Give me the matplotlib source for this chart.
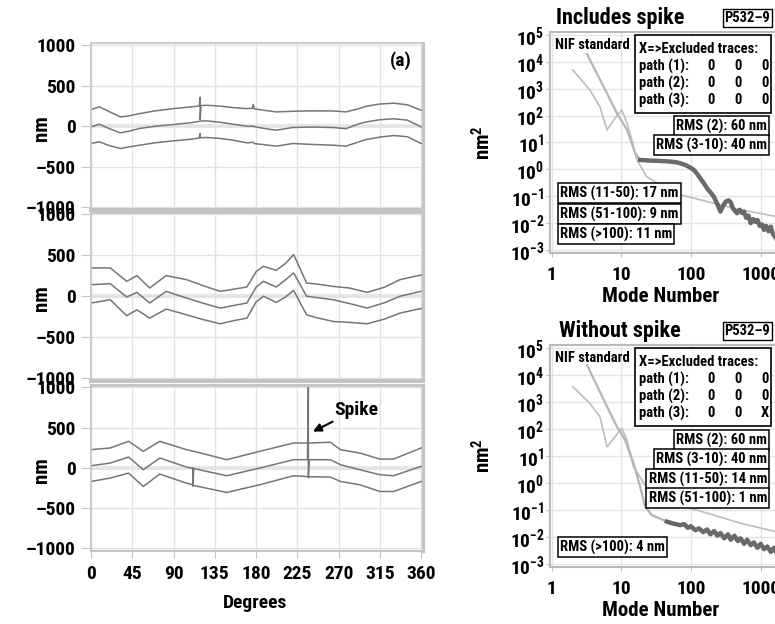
import numpy as np
import matplotlib
matplotlib.use('Agg')
import matplotlib.pyplot as plt
from matplotlib import font_manager
from matplotlib.patches import Rectangle

# pick a narrow bold sans if one is installed, else plain Liberation Sans
def _num(v, table, default):
    return v if isinstance(v, (int, float)) else table.get(v, default)

fam, stretch, k = 'Liberation Sans', 'normal', 0.85
for pref in ['Liberation Sans Narrow', 'Arial Narrow', 'Roboto Condensed', 'Noto Sans', 'Open Sans']:
    hits = [f for f in font_manager.fontManager.ttflist
            if f.name.startswith(pref)
            and _num(f.weight, font_manager.weight_dict, 400) >= 600
            and (_num(f.stretch, font_manager.stretch_dict, 500) <= 300
                 or 'Narrow' in f.name or 'Condensed' in f.name)]
    if hits:
        fam, stretch, k = hits[0].name, hits[0].stretch, 1.0
        break

plt.rcParams['font.family'] = fam
plt.rcParams['font.stretch'] = stretch
plt.rcParams['font.weight'] = 'bold'
plt.rcParams['mathtext.fontset'] = 'custom'
plt.rcParams['mathtext.rm'] = f'{fam}:weight=bold:stretch={stretch}'
plt.rcParams['mathtext.bf'] = f'{fam}:weight=bold:stretch={stretch}'

# ---- left: three traces per panel (degrees vs nm) ----
deg1 = [0, 9, 20, 32, 42, 53, 70, 90, 110, 118, 119, 119, 120, 126, 140, 155, 170, 176, 177, 178,
        190, 202, 220, 240, 264, 278, 293, 300, 315, 330, 345, 360]
upper1 = [206, 240, 180, 115, 130, 156, 190, 218, 240, 250, 360, 80, 255, 259, 250, 230, 218, 222, 270, 215,
          195, 177, 185, 190, 189, 177, 220, 247, 275, 285, 265, 198]
mid1 = [-8, 25, -30, -82, -60, -28, 0, 21, 45, 60, 62, 62, 64, 66, 50, 25, 0, 0, 0, -5,
        -30, -49, -16, -10, -16, -30, 33, 53, 80, 92, 75, -8]
lower1 = [-214, -193, -240, -276, -255, -235, -205, -181, -160, -145, -90, -145, -142, -140, -150, -173, -206, -200, -200, -215,
          -230, -247, -214, -225, -235, -247, -190, -165, -135, -115, -130, -214]

deg2 = [0, 21, 39, 50, 64, 82, 104, 122, 141, 155, 170, 180, 188, 202, 212, 221, 235, 245, 264, 282, 301, 320, 337, 360]
upper2 = [346, 346, 182, 252, 101, 252, 203, 130, 59, 85, 113, 300, 366, 317, 400, 509, 162, 150, 120, 100, 47, 110, 203, 260]
mid2 = [141, 153, -10, 47, -83, 59, -22, -85, -145, -115, -83, 110, 182, 113, 200, 285, 0, -15, -43, -90, -145, -80, 0, 60]
lower2 = [-83, -43, -239, -166, -268, -157, -227, -285, -337, -300, -268, -70, 0, -76, -10, 71, -227, -260, -309, -320, -337, -280, -206, -150]

deg3 = [0, 21, 41, 57, 75, 104, 110, 111, 111, 112, 148, 184, 221, 236, 237, 237, 238, 261, 272, 293, 315, 330, 360]
upper3 = [225, 246, 329, 204, 329, 225, 210, 205, 205, 205, 100, 204, 308, 308, 308, 308, 308, 317, 225, 183, 108, 108, 246]
mid3 = [25, 58, 133, -25, 121, 8, -5, 0, -230, -10, -100, -4, 100, 100, 1000, -125, 100, 100, 37, -25, -87, -100, 17]
lower3 = [-171, -129, -67, -233, -79, -192, -210, -215, -215, -221, -308, -212, -100, -110, -110, -110, -112, -117, -171, -212, -296, -296, -171]

panels = [(deg1, upper1, mid1, lower1), (deg2, upper2, mid2, lower2), (deg3, upper3, mid3, lower3)]
deg_ticks = [0, 45, 90, 135, 180, 225, 270, 315, 360]
nm_ticks = [-1000, -500, 0, 500, 1000]

# ---- right: PSD curves (mode number vs nm^2, given as log10 values) ----
modeA_light = [3.2, 4.4, 6.2, 8.6, 12, 15.8, 18.6]
expA_light = [4.29, 3.58, 2.83, 2.09, 1.47, 0.60, 0.35]
modeA_dark = [18.6, 25, 32, 45, 60, 70, 85, 100, 110, 125, 140, 152, 170, 190, 212, 240, 265, 290,
              315, 345, 372, 400, 430, 460, 500, 540, 578, 620, 670, 720, 780, 840, 900, 970, 1050, 1120,
              1200, 1300, 1400, 1500, 1660]
expA_dark = [0.35, 0.33, 0.32, 0.30, 0.27, 0.23, 0.15, 0.05, -0.02, -0.2, -0.38, -0.51, -0.7, -0.85, -1.01, -1.3, -1.57, -1.35,
             -1.2, -1.15, -1.22, -1.45, -1.55, -1.63, -1.5, -1.62, -1.57, -1.8, -1.72, -2.0, -1.85, -1.95, -1.88, -2.1, -2.05, -2.25,
             -2.1, -2.3, -2.13, -2.4, -2.56]
modeA_std = [2.0, 3.5, 4.9, 6.2, 8.1, 10.1, 12, 14.1, 16.7, 23, 56, 213, 515, 1660]
expA_std = [3.70, 2.96, 2.33, 1.47, 1.90, 2.21, 1.72, 1.10, 0.35, -0.27, -0.88, -1.26, -1.5, -1.75]

modeB_light = [3.2, 4.4, 6.2, 8.6, 11.3, 14.9, 18.6, 21.9, 27.4, 45, 70]
expB_light = [4.37, 3.63, 2.83, 2.09, 1.59, 0.73, -0.14, -0.88, -1.19, -1.43, -1.56]
modeB_dark = [45, 55, 70, 80, 90, 100, 115, 130, 150, 170, 190, 215, 240, 265, 300, 340, 372, 420, 470, 515,
              580, 640, 720, 800, 900, 1000, 1120, 1250, 1400, 1550, 1700]
expB_dark = [-1.43, -1.5, -1.56, -1.52, -1.66, -1.6, -1.75, -1.68, -1.82, -1.72, -1.9, -1.78, -1.95, -1.85, -2.05, -1.9, -2.1, -1.95, -2.15, -2.05,
             -2.25, -2.1, -2.3, -2.2, -2.4, -2.25, -2.45, -2.35, -2.55, -2.4, -2.6]
modeB_std = [2.0, 3.5, 4.9, 6.2, 8.1, 10.1, 12, 14.9, 26, 56, 213, 515, 1660]
expB_std = [3.57, 2.95, 2.46, 1.34, 1.72, 2.03, 1.59, 0.60, -0.38, -0.75, -1.19, -1.49, -1.80]

mode_ticks = [1, 10, 100, 1000]
psd_exps = [-3, -2, -1, 0, 1, 2, 3, 4, 5]

W, H = 775, 624
def fx(px):
    return px / W
def fy(py):
    return 1 - py / H

fig = plt.figure(figsize=(W / 100, H / 100), dpi=100)
box_fs = 10.5 if k == 1.0 else 8.6

gray = '#c4c4c4'
tops = [(43, 210), (212, 381), (385, 551)]
for i, ((t, b), (deg, up, md, lo)) in enumerate(zip(tops, panels)):
    ax = fig.add_axes([fx(91), fy(b), (423 - 91) / W, (b - t) / H])
    for y in (up, md, lo):
        ax.plot(deg, y, color='#767676', lw=1.1)
    ax.set_xlim(0, 362)
    ax.set_ylim(-1037, 1030)
    ax.set_xticks(deg_ticks)
    ax.set_yticks(nm_ticks)
    ax.set_yticklabels([str(v).replace('-', '\u2013') for v in nm_ticks], fontsize=14 * k, fontweight='bold')
    ax.grid(True, color='#e2e2e2', lw=1)
    ax.axhline(0, color='#e8e8e8', lw=3, zorder=0)
    for s in ax.spines.values():
        s.set_color(gray)
    ax.spines['left'].set_linewidth(1.2)
    ax.spines['right'].set_linewidth(2.2)
    ax.spines['top'].set_linewidth(2.0 if i else 1.2)
    ax.spines['bottom'].set_linewidth(3.0 if i < 2 else 1.5)
    ax.tick_params(axis='y', length=7, color=gray, pad=4)
    if i < 2:
        ax.tick_params(axis='x', bottom=False, labelbottom=False)
    else:
        ax.set_xticklabels([str(v) for v in deg_ticks], fontsize=14 * k, fontweight='bold')
        ax.tick_params(axis='x', length=5, color=gray, pad=5)
    fig.text(fx(42), fy((t + b) / 2 + 2), 'nm', rotation=90, ha='center', va='center',
             fontsize=15 * k, fontweight='bold')
    if i == 0:
        ax.text(338, 815, '(a)', ha='center', va='center', fontsize=14 * k, fontweight='bold')
    if i == 2:
        ax.annotate('Spike', xy=(242, 450), xytext=(265, 720), ha='left', va='center',
                    fontsize=14 * k, fontweight='bold',
                    arrowprops=dict(arrowstyle='-|>', color='black', lw=1.5, mutation_scale=12,
                                    shrinkA=0, shrinkB=0))

fig.text(fx(255), fy(603), 'Degrees', ha='center', va='center', fontsize=14 * k, fontweight='bold')

# ---- right panels ----
def psd_axes(t, b, light, dark, std, title, excl, rms_right, rms_left):
    ax = fig.add_axes([fx(550), fy(b), (780 - 550) / W, (b - t) / H])
    ax.set_xscale('log')
    ax.set_yscale('log')
    ax.plot(std[0], 10.0 ** np.array(std[1]), color='#bdbdbd', lw=1.2)
    ax.plot(light[0], 10.0 ** np.array(light[1]), color='#b5b5b5', lw=1.6)
    ax.plot(dark[0], 10.0 ** np.array(dark[1]), color='#5a5a5a', lw=3.2, alpha=0.9)
    ax.set_xlim(0.94, 1900)
    ax.set_ylim(10 ** -3.11, 10 ** 5.11)
    ax.set_xticks(mode_ticks)
    ax.set_xticklabels([str(v) for v in mode_ticks], fontsize=14 * k, fontweight='bold')
    ax.set_yticks([10.0 ** e for e in psd_exps])
    ax.set_yticklabels([r'$\mathbf{10^{%d}}$' % e for e in psd_exps], fontsize=14 * k)
    ax.minorticks_off()
    ax.grid(True, color='#e4e4e4', lw=1)
    for s in ax.spines.values():
        s.set_color('#bbbbbb')
        s.set_linewidth(1.5)
    ax.tick_params(axis='y', length=3, color='#bbbbbb', pad=1)
    ax.tick_params(axis='x', length=3, color='#bbbbbb', pad=6)

    fig.text(fx(483), fy((t + b) / 2), r'$\mathbf{nm^{2}}$', rotation=90, ha='center', va='center',
             fontsize=15 * k)
    fig.text(fx(661), fy(b + 43), 'Mode Number', ha='center', va='center', fontsize=15 * k, fontweight='bold')
    fig.text(fx(620), fy(t - 14), title, ha='center', va='center', fontsize=16 * k, fontweight='bold')
    fig.text(fx(770), fy(t - 14), 'P532\u20139', ha='right', va='center', fontsize=box_fs, fontweight='bold',
             bbox=dict(boxstyle='square,pad=0.12', fc='white', ec='black', lw=1))
    fig.text(fx(555), fy(t + 13), 'NIF standard', ha='left', va='center', fontsize=box_fs, fontweight='bold')

    # excluded traces box
    bx0, by0 = 635, t + 3
    fig.patches.append(Rectangle((fx(bx0), fy(by0 + 78)), (771 - bx0) / W, 78 / H,
                                 transform=fig.transFigure, fc='white', ec='black', lw=1.2, zorder=5))
    fig.text(fx(bx0 + 4), fy(by0 + 14), 'X=>Excluded traces:', ha='left', va='center',
             fontsize=box_fs, fontweight='bold', zorder=6)
    for r, row in enumerate(excl):
        yy = fy(by0 + 31 + 17 * r)
        fig.text(fx(bx0 + 4), yy, 'path (%d):' % (r + 1), ha='left', va='center',
                 fontsize=box_fs, fontweight='bold', zorder=6)
        for c, v in enumerate(row):
            fig.text(fx(711 + 27 * c), yy, v, ha='center', va='center', fontsize=box_fs,
                     fontweight='bold', zorder=6)
    for txt, py in rms_right:
        fig.text(fx(767), fy(py), txt, ha='right', va='center', fontsize=box_fs, fontweight='bold', zorder=6,
                 bbox=dict(boxstyle='square,pad=0.15', fc='white', ec='black', lw=1.1))
    for txt, py in rms_left:
        fig.text(fx(560), fy(py), txt, ha='left', va='center', fontsize=box_fs, fontweight='bold', zorder=6,
                 bbox=dict(boxstyle='square,pad=0.15', fc='white', ec='black', lw=1.1))
    return ax

psd_axes(32, 253, (modeA_light, expA_light), (modeA_dark, expA_dark), (modeA_std, expA_std),
         'Includes spike', [['0', '0', '0'], ['0', '0', '0'], ['0', '0', '0']],
         [('RMS (2): 60 nm', 126), ('RMS (3-10): 40 nm', 145)],
         [('RMS (11-50): 17 nm', 193), ('RMS (51-100): 9 nm', 214), ('RMS (>100): 11 nm', 234)])

psd_axes(345, 567, (modeB_light, expB_light), (modeB_dark, expB_dark), (modeB_std, expB_std),
         'Without spike', [['0', '0', '0'], ['0', '0', '0'], ['0', '0', 'X']],
         [('RMS (2): 60 nm', 440), ('RMS (3-10): 40 nm', 459), ('RMS (11-50): 14 nm', 479),
          ('RMS (51-100): 1 nm', 498)],
         [('RMS (>100): 4 nm', 547)])

fig.savefig('out.png', dpi=100)
